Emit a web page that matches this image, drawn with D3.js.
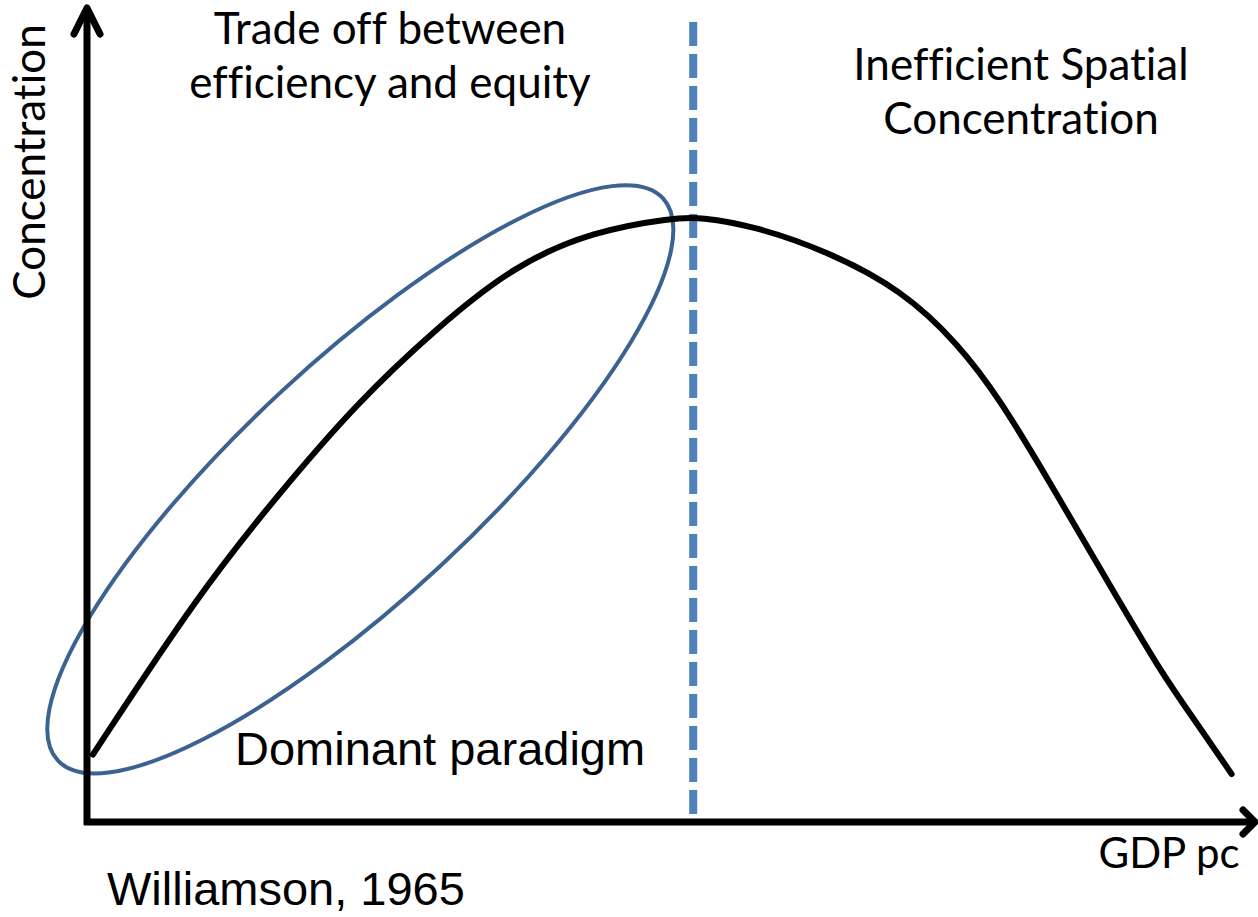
<!DOCTYPE html>
<html>

<head>
  <meta charset="utf-8">
  <title>Williamson curve</title>
  <style>
    body { margin: 0; background: #fff; }
    svg { display: block; }
    .calibri { font-family: Lato, "Open Sans", sans-serif; font-variant-ligatures: none; }
    .arial { font-family: "Liberation Sans", Arial, sans-serif; }
  </style>
</head>

<body>
  <svg></svg>
  <script src="https://d3js.org/d3.v7.min.js"></script>
  <script>
    // curve: GDP pc (0-100) vs concentration (0-100)
    const gdp = [0.5, 9.6, 16.4, 23.1, 29.9, 36.6, 43.4, 50.2, 52.5, 57.1, 63.4, 69.8,
      74.6, 78.2, 82.4, 86.7, 91.9, 95.3, 98.0];
    const concentration = [8.3, 28.2, 40.4, 51.6, 60.8, 68.6, 72.8, 74.4, 74.5, 73.4, 70.3, 65.5,
      58.9, 52.0, 41.9, 31.3, 18.5, 11.6, 5.9];

    const turningPoint = 51.9;           // dashed separator
    const ellipseCentre = [23.4, 42.2];  // "dominant paradigm" ring

    const axisTitles = ["GDP pc", "Concentration"];
    const leftNote = ["Trade off between", "efficiency and equity"];
    const rightNote = ["Inefficient Spatial", "Concentration"];
    const innerNote = "Dominant paradigm";
    const source = "Williamson, 1965";

    const width = 1258;
    const height = 917;

    const x = d3.scaleLinear([0, 100], [87, 1255]);
    const y = d3.scaleLinear([0, 100], [822, 10]);

    const svg = d3.select("svg")
      .attr("width", width)
      .attr("height", height)
      .attr("viewBox", [0, 0, width, height]);

    // ring
    const ex = x(ellipseCentre[0]), ey = y(ellipseCentre[1]);
    svg.append("ellipse")
      .attr("cx", ex)
      .attr("cy", ey)
      .attr("rx", 413)
      .attr("ry", 118)
      .attr("transform", `rotate(-42.9,${ex},${ey})`)
      .attr("fill", "none")
      .attr("stroke", "#3c6291")
      .attr("stroke-width", 4);

    // separator
    svg.append("line")
      .attr("x1", x(turningPoint)).attr("x2", x(turningPoint))
      .attr("y1", 22).attr("y2", 814)
      .attr("stroke", "#4f81bd")
      .attr("stroke-width", 8)
      .attr("stroke-dasharray", "24,8");

    // the curve
    const line = d3.line()
      .x(d => x(d[0]))
      .y(d => y(d[1]))
      .curve(d3.curveBasis);

    svg.append("path")
      .datum(d3.zip(gdp, concentration))
      .attr("d", line)
      .attr("fill", "none")
      .attr("stroke", "#000")
      .attr("stroke-width", 6)
      .attr("stroke-linecap", "round");

    // axes with open arrow heads
    const axes = svg.append("g")
      .attr("fill", "none")
      .attr("stroke", "#000")
      .attr("stroke-width", 7)
      .attr("stroke-linecap", "round")
      .attr("stroke-linejoin", "round");

    axes.append("path")
      .attr("d", `M${x(0)},${y(0) + 3}V${y(100) - 2}`)
      .attr("stroke-linecap", "butt");
    axes.append("path")
      .attr("d", `M${x(0) - 13},${y(100) + 24}L${x(0)},${y(100) - 2}L${x(0) + 13},${y(100) + 24}`);
    axes.append("path")
      .attr("d", `M${x(0) - 3},${y(0)}H${x(100)}`)
      .attr("stroke-linecap", "butt");
    axes.append("path")
      .attr("d", `M${x(100) - 12},${y(0) - 12}L${x(100)},${y(0)}L${x(100) - 12},${y(0) + 12}`);

    // labels
    svg.append("text")
      .attr("class", "calibri")
      .attr("transform", `translate(45,${162}) rotate(-90)`)
      .attr("text-anchor", "middle")
      .attr("font-size", 44)
      .text(axisTitles[1]);

    svg.append("text")
      .attr("class", "calibri")
      .attr("x", 1169).attr("y", 868)
      .attr("text-anchor", "middle")
      .attr("font-size", 42)
      .text(axisTitles[0]);

    svg.append("g")
      .attr("class", "calibri")
      .attr("font-size", 44)
      .attr("text-anchor", "middle")
      .selectAll("text")
      .data(leftNote)
      .join("text")
      .attr("x", 390)
      .attr("y", (d, i) => 44 + i * 54)
      .text(d => d);

    svg.append("g")
      .attr("class", "calibri")
      .attr("font-size", 44)
      .attr("text-anchor", "middle")
      .selectAll("text")
      .data(rightNote)
      .join("text")
      .attr("x", 1021)
      .attr("y", (d, i) => 80 + i * 54)
      .text(d => d);

    svg.append("text")
      .attr("class", "arial")
      .attr("x", 235).attr("y", 765)
      .attr("font-size", 47)
      .text(innerNote);

    svg.append("text")
      .attr("class", "arial")
      .attr("x", 107).attr("y", 905)
      .attr("font-size", 47)
      .text(source);
  </script>
</body>

</html>
